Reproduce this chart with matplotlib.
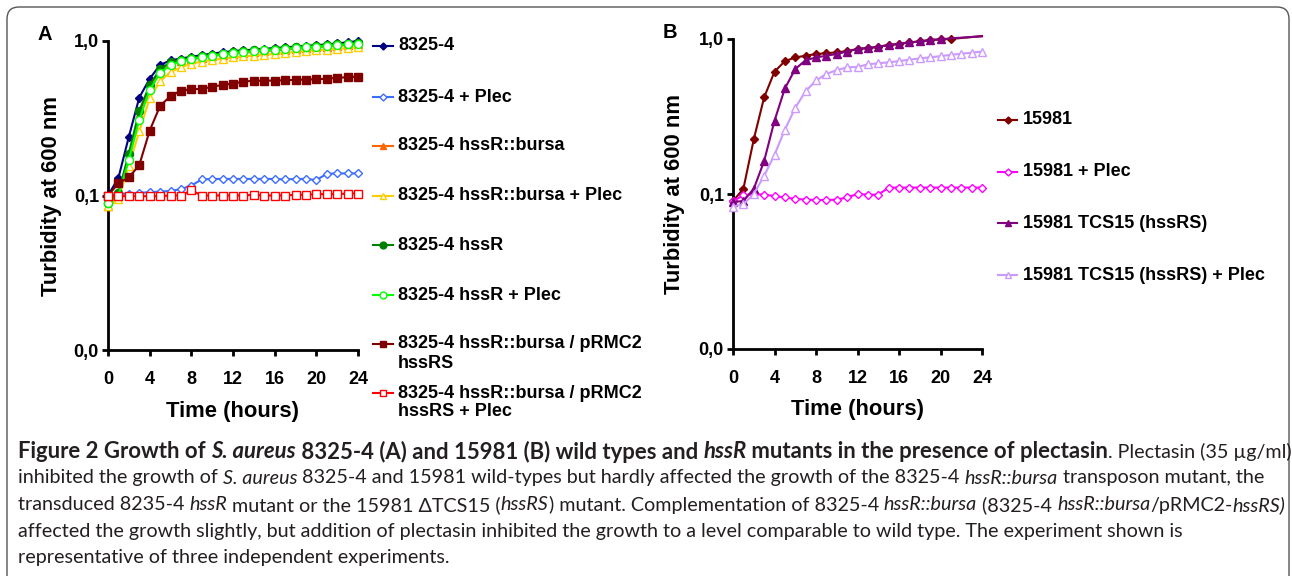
import matplotlib
matplotlib.use('Agg')
import matplotlib.pyplot as plt
from matplotlib.lines import Line2D
from matplotlib.patches import FancyBboxPatch
from matplotlib.ticker import NullLocator, FixedLocator
from matplotlib.font_manager import FontProperties
import matplotlib.transforms as mtrans

# ---------------- data ----------------
hours = list(range(25))

a_labels = ["8325-4", "8325-4 + Plec", "8325-4 hssR::bursa", "8325-4 hssR::bursa + Plec",
            "8325-4 hssR", "8325-4 hssR + Plec",
            "8325-4 hssR::bursa / pRMC2\nhssRS", "8325-4 hssR::bursa / pRMC2\nhssRS + Plec"]

a_wt = [0.100, 0.130, 0.240, 0.430, 0.570, 0.700, 0.750, 0.770, 0.790, 0.810, 0.830, 0.845, 0.860,
        0.870, 0.880, 0.890, 0.900, 0.910, 0.920, 0.930, 0.940, 0.950, 0.965, 0.980, 1.000]
a_wt_plec = [0.100, 0.102, 0.103, 0.104, 0.105, 0.106, 0.107, 0.110, 0.116, 0.127, 0.128, 0.128, 0.128,
             0.128, 0.128, 0.128, 0.128, 0.127, 0.128, 0.128, 0.126, 0.138, 0.139, 0.139, 0.139]
a_bursa = [0.085, 0.100, 0.175, 0.330, 0.500, 0.640, 0.710, 0.740, 0.760, 0.780, 0.800, 0.815, 0.830,
           0.840, 0.850, 0.860, 0.870, 0.880, 0.890, 0.900, 0.910, 0.920, 0.930, 0.940, 0.950]
a_bursa_plec = [0.085, 0.095, 0.155, 0.260, 0.425, 0.550, 0.630, 0.675, 0.715, 0.735, 0.755, 0.770, 0.785,
                0.795, 0.805, 0.815, 0.825, 0.840, 0.850, 0.860, 0.870, 0.880, 0.890, 0.900, 0.910]
a_hssr = [0.089, 0.104, 0.187, 0.352, 0.520, 0.656, 0.730, 0.755, 0.775, 0.795, 0.815, 0.830, 0.845,
          0.860, 0.870, 0.880, 0.890, 0.900, 0.910, 0.920, 0.930, 0.940, 0.950, 0.960, 0.975]
a_hssr_plec = [0.090, 0.100, 0.170, 0.310, 0.480, 0.620, 0.700, 0.740, 0.765, 0.785, 0.805, 0.820, 0.835,
               0.850, 0.860, 0.870, 0.880, 0.890, 0.900, 0.910, 0.920, 0.930, 0.940, 0.950, 0.960]
a_comp = [0.100, 0.120, 0.131, 0.157, 0.263, 0.380, 0.440, 0.477, 0.487, 0.490, 0.505, 0.520, 0.530,
          0.546, 0.553, 0.553, 0.555, 0.557, 0.560, 0.563, 0.565, 0.570, 0.578, 0.583, 0.587]
a_comp_plec = [0.100, 0.099, 0.099, 0.099, 0.099, 0.099, 0.100, 0.100, 0.108, 0.100, 0.100, 0.100, 0.100,
               0.100, 0.101, 0.100, 0.100, 0.100, 0.101, 0.101, 0.102, 0.102, 0.102, 0.103, 0.103]

b_labels = ["15981", "15981 + Plec", "15981 TCS15 (hssRS)", "15981 TCS15 (hssRS) + Plec"]
b_wt = [0.090, 0.108, 0.225, 0.420, 0.615, 0.720, 0.760, 0.780, 0.800, 0.810, 0.820, 0.835, 0.862,
        0.875, 0.890, 0.915, 0.930, 0.950, 0.965, 0.985, 0.995, 1.000, 1.015, 1.030, 1.045]
b_wt_plec = [0.090, 0.098, 0.100, 0.099, 0.097, 0.095, 0.093, 0.092, 0.0915, 0.0915, 0.092, 0.095, 0.100,
             0.099, 0.099, 0.110, 0.110, 0.110, 0.110, 0.110, 0.110, 0.110, 0.110, 0.110, 0.110]
b_tcs = [0.089, 0.090, 0.108, 0.163, 0.297, 0.480, 0.640, 0.730, 0.760, 0.780, 0.800, 0.830, 0.862,
         0.875, 0.890, 0.915, 0.930, 0.950, 0.965, 0.985, 0.995, 1.010, 1.020, 1.030, 1.040]
b_tcs_plec = [0.083, 0.086, 0.100, 0.131, 0.179, 0.260, 0.360, 0.460, 0.540, 0.595, 0.630, 0.656, 0.660,
              0.687, 0.697, 0.707, 0.720, 0.735, 0.750, 0.762, 0.775, 0.790, 0.803, 0.816, 0.830]

x_ticks = [0, 4, 8, 12, 16, 20, 24]
y_ticks = [0.01, 0.1, 1.0]
y_tick_labels = ["0,0", "0,1", "1,0"]

# ---------------- styles ----------------
FONT = ['Liberation Sans', 'DejaVu Sans']
a_styles = [
    dict(color='#000080', marker='D', ms=4.2, mfc='#000080'),
    dict(color='#3d6dff', marker='D', ms=4.2, mfc='white'),
    dict(color='#ff6600', marker='^', ms=5.8, mfc='#ff6600'),
    dict(color='#ffcc00', marker='^', ms=5.8, mfc='white'),
    dict(color='#008000', marker='o', ms=5.8, mfc='#008000'),
    dict(color='#00ff00', marker='o', ms=5.8, mfc='white'),
    dict(color='#800000', marker='s', ms=5.2, mfc='#800000'),
    dict(color='#ff0000', marker='s', ms=5.2, mfc='white'),
]
b_styles = [
    dict(color='#800000', marker='D', ms=4.2, mfc='#800000'),
    dict(color='#ff00ff', marker='D', ms=4.2, mfc='white'),
    dict(color='#800080', marker='^', ms=5.8, mfc='#800080'),
    dict(color='#cc99ff', marker='^', ms=5.8, mfc='white'),
]

W, H = 1292, 576
fig = plt.figure(figsize=(W / 100, H / 100), dpi=100)
fig.patch.set_facecolor('white')


def px_axes(l, t, r, b):
    return fig.add_axes([l / W, 1 - b / H, (r - l) / W, (b - t) / H])


def fx(x):
    return x / W


def fy(y):
    return 1 - y / H


def style_axes(ax, ylab_x, xlab_y):
    ax.set_yscale('log')
    ax.set_ylim(0.01, 1.0)
    ax.set_xlim(0, 24)
    ax.xaxis.set_major_locator(FixedLocator(x_ticks))
    ax.yaxis.set_major_locator(FixedLocator(y_ticks))
    ax.yaxis.set_minor_locator(NullLocator())
    ax.xaxis.set_minor_locator(NullLocator())
    ax.set_yticklabels(y_tick_labels)
    for s in ['top', 'right']:
        ax.spines[s].set_visible(False)
    for s in ['left', 'bottom']:
        ax.spines[s].set_linewidth(2.0)
    ax.tick_params(axis='both', width=2.0, length=4.5, labelsize=13)
    ax.tick_params(axis='x', pad=10.5)
    ax.tick_params(axis='y', pad=2)
    for lab in ax.get_xticklabels() + ax.get_yticklabels():
        lab.set_fontweight('bold')
        lab.set_family(FONT)
    ax.set_xlabel('Time (hours)', fontsize=15.8, fontweight='bold', family=FONT)
    ax.set_ylabel('Turbidity at 600 nm', fontsize=15.8, fontweight='bold', family=FONT)
    ax.xaxis.label.set_va('center')
    ax.yaxis.label.set_va('center')
    ax.yaxis.set_label_coords(ylab_x, 0.5)
    ax.xaxis.set_label_coords(0.5, xlab_y)
    ax.patch.set_alpha(0)


def plot_series(ax, y, st):
    mask = [v <= 1.0 for v in y]
    ax.plot(hours, y, color=st['color'], lw=1.5, marker=st['marker'], ms=st['ms'],
            mfc=st['mfc'], mec=st['color'], mew=1.0, markevery=mask, clip_on=False, zorder=3)


# Panel A
axA = px_axes(108, 41, 358, 350)
style_axes(axA, -0.224, -0.20)
for y, st in zip([a_wt, a_wt_plec, a_bursa, a_bursa_plec, a_hssr, a_hssr_plec, a_comp, a_comp_plec], a_styles):
    plot_series(axA, y, st)

# Panel B
axB = px_axes(733, 39, 982, 349)
style_axes(axB, -0.233, -0.194)
for y, st in zip([b_wt, b_wt_plec, b_tcs, b_tcs_plec], b_styles):
    plot_series(axB, y, st)

fig.text(fx(45), fy(35), 'A', fontsize=14.5, fontweight='bold', family=FONT, ha='center', va='center')
fig.text(fx(670), fy(33), 'B', fontsize=14.5, fontweight='bold', family=FONT, ha='center', va='center')


# ---------------- legends ----------------
def legend_entry(x0, x1, xt, y, label, st, line_gap=19):
    fig.add_artist(Line2D([fx(x0), fx((x0 + x1) / 2), fx(x1)], [fy(y)] * 3, transform=fig.transFigure,
                          color=st['color'], lw=1.5, marker=st['marker'], ms=st['ms'] * 0.85, mfc=st['mfc'],
                          mec=st['color'], mew=1.0, markevery=[1]))
    for i, part in enumerate(label.split('\n')):
        fig.text(fx(xt), fy(y + i * line_gap), part, fontsize=13, fontweight='bold', family=FONT,
                 ha='left', va='center')


a_leg_y = [46, 97, 146, 196, 245, 295, 344, 393]
for yy, lab, st in zip(a_leg_y, a_labels, a_styles):
    legend_entry(373, 393, 398, yy, lab, st)

b_leg_y = [120, 172, 223, 275]
for yy, lab, st in zip(b_leg_y, b_labels, b_styles):
    legend_entry(998, 1017, 1023, yy, lab, st)

# ---------------- frame ----------------
frame = FancyBboxPatch((7, -30), 1282, 576 - 7 + 30, boxstyle='round,pad=0,rounding_size=12',
                       transform=mtrans.IdentityTransform(), fill=False, ec='#555555', lw=1.0)
fig.add_artist(frame)

# ---------------- caption ----------------
CAP = ['Lato', 'Open Sans', 'DejaVu Sans']
cap_lines = [
    [("Figure 2 Growth of ", 'bold', 'normal'), ("S. aureus", 'bold', 'italic'),
     (" 8325-4 (A) and 15981 (B) wild types and ", 'bold', 'normal'), ("hssR", 'bold', 'italic'),
     (" mutants in the presence of plectasin", 'bold', 'normal'), (". Plectasin (35 \u00b5g/ml)", 'normal', 'normal')],
    [("inhibited the growth of ", 'normal', 'normal'), ("S. aureus", 'normal', 'italic'),
     (" 8325-4 and 15981 wild-types but hardly affected the growth of the 8325-4 ", 'normal', 'normal'),
     ("hssR::bursa", 'normal', 'italic'), (" transposon mutant, the", 'normal', 'normal')],
    [("transduced 8235-4 ", 'normal', 'normal'), ("hssR", 'normal', 'italic'),
     (" mutant or the 15981 \u0394TCS15 (", 'normal', 'normal'), ("hssRS", 'normal', 'italic'),
     (") mutant. Complementation of 8325-4 ", 'normal', 'normal'), ("hssR::bursa", 'normal', 'italic'),
     (" (8325-4 ", 'normal', 'normal'), ("hssR::bursa", 'normal', 'italic'), ("/pRMC2-", 'normal', 'normal'),
     ("hssRS)", 'normal', 'italic')],
    [("affected the growth slightly, but addition of plectasin inhibited the growth to a level comparable to wild type. The experiment shown is", 'normal', 'normal')],
    [("representative of three independent experiments.", 'normal', 'normal')],
]
cap_y = [452, 478, 505, 531, 557]
cap_targets = [1272, 1258, 1270, 1195, 458]

fig.canvas.draw()
renderer = fig.canvas.get_renderer()


def seg_width(txt, weight, style, size):
    fp = FontProperties(family=CAP, weight=weight, style=style, size=size)
    w1 = renderer.get_text_width_height_descent(txt + '|', fp, False)[0]
    w2 = renderer.get_text_width_height_descent('|', fp, False)[0]
    return (w1 - w2)


base = 10.0
sizes = []
for segs, tgt in zip(cap_lines[1:3], cap_targets[1:3]):
    wl = sum(seg_width(t, w, s, base) for t, w, s in segs)
    sizes.append(base * tgt / wl)
cap_size = min(sizes)

# bold title gets its own size so that line 1 spans the same width as in the reference
w_norm1 = sum(seg_width(t, w, s, cap_size) for t, w, s in cap_lines[0] if w != 'bold')
w_bold1 = sum(seg_width(t, w, s, base) for t, w, s in cap_lines[0] if w == 'bold')
bold_size = min(base * (cap_targets[0] - w_norm1) / w_bold1, cap_size * 1.12)

for segs, yy in zip(cap_lines, cap_y):
    x = 18.0
    for t, w, s in segs:
        sz = bold_size if w == 'bold' else cap_size
        fig.text(fx(x), fy(yy), t, fontsize=sz, fontweight=w, fontstyle=s, family=CAP,
                 ha='left', va='center', color='#231f20')
        x += seg_width(t, w, s, sz)

fig.savefig('out.png', dpi=100)
